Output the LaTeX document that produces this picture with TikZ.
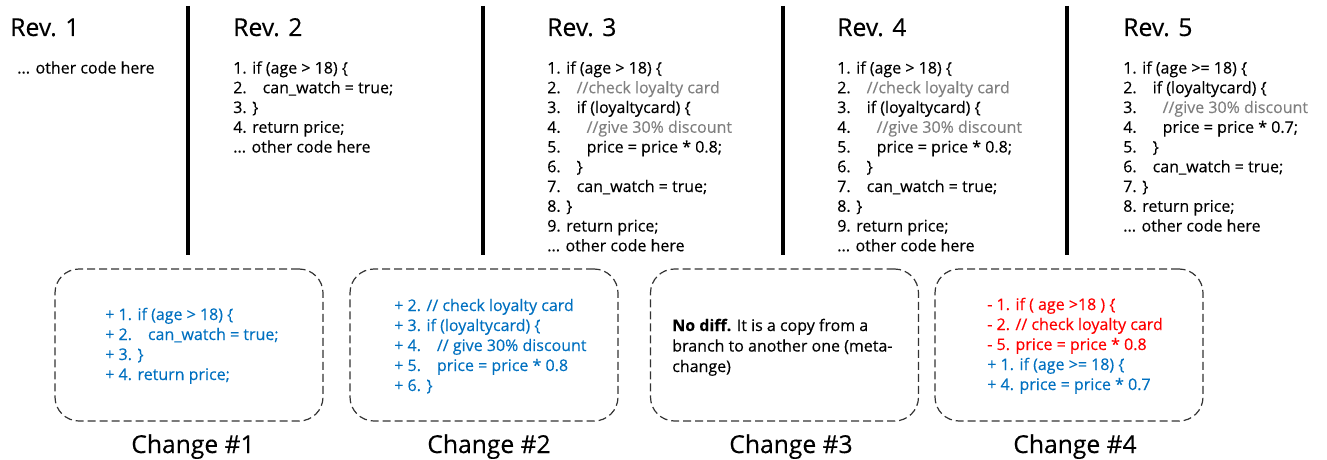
\documentclass[tikz,border=0pt]{standalone}
\usepackage{fontspec}
\setmainfont[FakeBold=0.3]{Open Sans}
\usetikzlibrary{positioning}
\definecolor{addblue}{RGB}{0,112,192}
\definecolor{delred}{RGB}{255,0,0}
\definecolor{cmtgray}{RGB}{128,128,128}
\newcommand{\cmt}[1]{\textcolor{cmtgray}{#1}}
\newcommand{\tabone}{\hspace*{12pt}}
\newcommand{\tabtwo}{\hspace*{19.5pt}}
\newcommand{\othercode}{... other code here}
\tikzset{
  revtitle/.style={anchor=base west, inner sep=0pt, font=\fontsize{18.5}{22}\selectfont},
  codeline/.style={anchor=base west, inner sep=0pt, font=\fontsize{12}{14}\selectfont},
  addline/.style={codeline, text=addblue},
  delline/.style={codeline, text=delred},
  divider/.style={line width=3.6pt},
  diffbox/.style={draw=black!80, dash pattern=on 6pt off 3pt, line width=0.9pt,
    rounded corners=18pt, minimum width=201pt, minimum height=114pt},
  chglabel/.style={anchor=base, inner sep=0pt, font=\fontsize{18.5}{22}\selectfont}
}

\begin{document}
\begin{tikzpicture}[x=0.75pt, y=-0.75pt]
\useasboundingbox (0,0) rectangle (1327,460);

% revisions
\node[revtitle] (rev1) at (10,36) {Rev. 1};
\node[revtitle] (rev2) at (233,36) {Rev. 2};
\node[revtitle] (rev3) at (547,36) {Rev. 3};
\node[revtitle] (rev4) at (837,36) {Rev. 4};
\node[revtitle] (rev5) at (1123,36) {Rev. 5};

\draw[divider] (188,6) -- (188,255);
\draw[divider] (483,6) -- (483,255);
\draw[divider] (783,6) -- (783,255);
\draw[divider] (1067,6) -- (1067,255);

\node[codeline] (rone-0) at (17,73.5) {\othercode};

\foreach \t [count=\i from 0] in {
  {1. if (age > 18) \{},
  {2.\tabone can\_watch = true;},
  {3. \}},
  {4. return price;},
  {\othercode}}
  \node[codeline] (rtwo-\i) at (233,73.5+\i*19.75) {\t};

\foreach \t [count=\i from 0] in {
  {1. if (age > 18) \{},
  {2.\tabone\cmt{//check loyalty card}},
  {3.\tabone if (loyaltycard) \{},
  {4.\tabtwo\cmt{//give 30\% discount}},
  {5.\tabtwo price = price * 0.8;},
  {6.\tabone\}},
  {7.\tabone can\_watch = true;},
  {8. \}},
  {9. return price;},
  {\othercode}} {
  \node[codeline] (rthree-\i) at (547,73.5+\i*19.75) {\t};
  \node[codeline] (rfour-\i) at (837,73.5+\i*19.75) {\t};
}

\foreach \t [count=\i from 0] in {
  {1. if (age >= 18) \{},
  {2.\tabone if (loyaltycard) \{},
  {3.\tabtwo\cmt{//give 30\% discount}},
  {4.\tabtwo price = price * 0.7;},
  {5.\tabone\}},
  {6.\tabone can\_watch = true;},
  {7. \}},
  {8. return price;},
  {\othercode}}
  \node[codeline] (rfive-\i) at (1123,73.5+\i*19.75) {\t};

% changes
\node[diffbox] (chg1) at (189,345) {};
\node[diffbox] (chg2) at (484,345) {};
\node[diffbox] (chg3) at (784.5,345) {};
\node[diffbox] (chg4) at (1069,345) {};

\foreach \t [count=\i from 0] in {
  {+ 1. if (age > 18) \{},
  {+ 2.\tabone can\_watch = true;},
  {+ 3. \}},
  {+ 4. return price;}}
  \node[addline] (cone-\i) at (105,320+\i*20) {\t};

\foreach \t [count=\i from 0] in {
  {+ 2. // check loyalty card},
  {+ 3. if (loyaltycard) \{},
  {+ 4.\tabone // give 30\% discount},
  {+ 5.\tabone price = price * 0.8},
  {+ 6. \}}}
  \node[addline] (ctwo-\i) at (394,311+\i*20) {\t};

\node[codeline] (cthree-0) at (672,331) {\textbf{No diff.} It is a copy from a};
\node[codeline] (cthree-1) at (672,351.5) {branch to another one (meta-};
\node[codeline] (cthree-2) at (672,372) {change)};

\foreach \t [count=\i from 0] in {
  {- 1. if ( age >18 ) \{},
  {- 2. // check loyalty card},
  {- 5. price = price * 0.8}}
  \node[delline] (cfour-\i) at (987,310+\i*20) {\t};
\foreach \t [count=\i from 3] in {
  {+ 1. if (age >= 18) \{},
  {+ 4. price = price * 0.7}}
  \node[addline] (cfour-\i) at (987,310+\i*20) {\t};

\node[chglabel] (lbl1) at (193,453) {Change \#1};
\node[chglabel] (lbl2) at (489,453) {Change \#2};
\node[chglabel] (lbl3) at (791,453) {Change \#3};
\node[chglabel] (lbl4) at (1075,453) {Change \#4};
\end{tikzpicture}
\end{document}
